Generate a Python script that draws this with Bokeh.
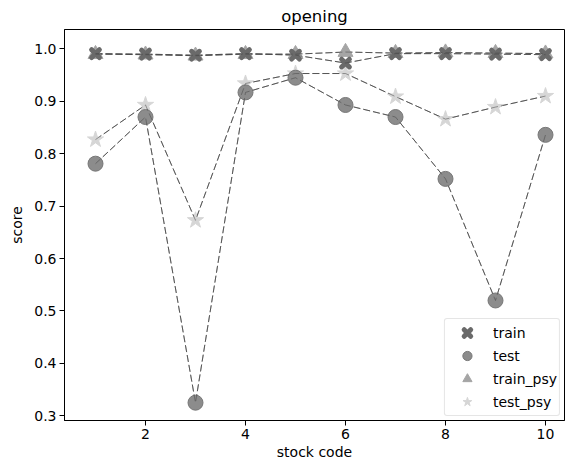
from bokeh.plotting import figure
from bokeh.models import Range1d, FixedTicker, Legend, LegendItem
from bokeh.embed import file_html
from bokeh.resources import INLINE

stock_code = [1, 2, 3, 4, 5, 6, 7, 8, 9, 10]
train = [0.991, 0.990, 0.988, 0.991, 0.988, 0.973, 0.991, 0.991, 0.990, 0.989]
test = [0.781, 0.870, 0.325, 0.917, 0.945, 0.893, 0.870, 0.752, 0.520, 0.836]
train_psy = [0.990, 0.989, 0.987, 0.990, 0.990, 0.994, 0.992, 0.993, 0.992, 0.991]
test_psy = [0.827, 0.893, 0.673, 0.934, 0.953, 0.953, 0.909, 0.866, 0.889, 0.910]
x_ticks = [2, 4, 6, 8, 10]
y_ticks = [0.3, 0.4, 0.5, 0.6, 0.7, 0.8, 0.9, 1.0]
y_tick_labels = ["0.3", "0.4", "0.5", "0.6", "0.7", "0.8", "0.9", "1.0"]

FONT = "DejaVu Sans"

p = figure(width=565, height=462, output_backend="svg", toolbar_location=None,
           x_range=Range1d(0.38, 10.38), y_range=Range1d(0.291, 1.037),
           min_border_left=64, min_border_right=1, min_border_top=29, min_border_bottom=39,
           title="opening")
p.title.align = "center"
p.title.text_font = FONT
p.title.text_font_size = "16.5px"
p.title.text_font_style = "normal"
p.title.text_color = "#000000"
p.title.standoff = 8
p.xgrid.visible = False
p.ygrid.visible = False
p.outline_line_color = "#000000"
p.outline_line_width = 1
p.outline_line_alpha = 1

for ax in (p.xaxis, p.yaxis):
    ax.axis_line_color = "#000000"
    ax.major_tick_line_color = "#000000"
    ax.major_tick_out = 5
    ax.major_tick_in = 0
    ax.minor_tick_line_color = None
    ax.major_label_text_font = FONT
    ax.major_label_text_font_size = "14px"
    ax.major_label_text_color = "#000000"
    ax.axis_label_text_font = FONT
    ax.axis_label_text_font_size = "14px"
    ax.axis_label_text_font_style = "normal"
    ax.axis_label_text_color = "#000000"

p.xaxis.ticker = FixedTicker(ticks=x_ticks)
p.yaxis.ticker = FixedTicker(ticks=y_ticks)
p.yaxis.major_label_overrides = {t: l for t, l in zip(y_ticks, y_tick_labels)}
p.xaxis.axis_label = "stock code"
p.yaxis.axis_label = "score"
p.xaxis.major_label_standoff = 3
p.yaxis.major_label_standoff = 3
p.xaxis.axis_label_standoff = 2
p.yaxis.axis_label_standoff = 6

DASH = "7 3"
LC = "#444444"

for ys in (train_psy, test_psy, test, train):
    p.line(stock_code, ys, line_color=LC, line_dash=DASH, line_width=1, line_alpha=0.8)

r_tp = p.scatter(stock_code, train_psy, marker="triangle", size=15,
                 fill_color="#a5a5a5", line_color="#a5a5a5")
r_sp = p.scatter(stock_code, test_psy, marker="star", size=17,
                 fill_color="#d6d6d6", line_color="#d6d6d6")
r_te = p.scatter(stock_code, test, marker="circle", size=15,
                 fill_color="#8c8c8c", line_color="#777777", line_width=1)
r_tr = p.scatter(stock_code, train, marker="x", size=11, line_width=5,
                 line_color="#6a6a6a", line_cap="round")

for ys in (train_psy, test_psy, test, train):
    p.line(stock_code, ys, line_color=LC, line_dash=DASH, line_width=1, line_alpha=0.5)

legend = Legend(items=[
    LegendItem(label="train", renderers=[r_tr]),
    LegendItem(label="test", renderers=[r_te]),
    LegendItem(label="train_psy", renderers=[r_tp]),
    LegendItem(label="test_psy", renderers=[r_sp]),
], location="bottom_right")
legend.label_text_font = FONT
legend.label_text_font_size = "14px"
legend.label_text_color = "#000000"
legend.border_line_color = "#cccccc"
legend.border_line_width = 1
legend.border_radius = 3
legend.background_fill_alpha = 0.85
legend.glyph_width = 40
legend.glyph_height = 23
legend.label_height = 23
legend.spacing = 0
legend.padding = 2
legend.margin = 4
legend.label_standoff = 6
p.add_layout(legend, "center")

open("out.html", "w").write(file_html(p, INLINE))
